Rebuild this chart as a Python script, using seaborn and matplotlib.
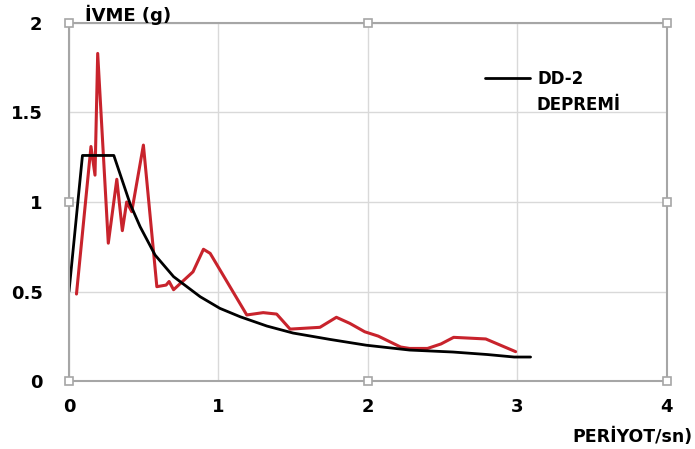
import matplotlib
matplotlib.use("Agg")
import matplotlib.pyplot as plt
import pandas as pd
import seaborn as sns

# DD-2 design spectrum (black)
dd2_period = [0.0, 0.09, 0.30, 0.409, 0.476, 0.576, 0.70, 0.878, 1.01, 1.146,
              1.325, 1.50, 1.75, 1.99, 2.28, 2.57, 2.80, 2.98, 3.09]
dd2_accel = [0.50, 1.26, 1.26, 0.99, 0.862, 0.704, 0.583, 0.471, 0.406, 0.359,
             0.307, 0.268, 0.232, 0.20, 0.173, 0.162, 0.148, 0.134, 0.134]

# record spectrum (red)
rec_period = [0.05, 0.147, 0.174, 0.192, 0.263, 0.32, 0.357, 0.386, 0.42, 0.498, 0.588, 0.65, 0.67,
              0.70, 0.83, 0.90, 0.945, 1.19, 1.30, 1.39, 1.48, 1.68, 1.79, 1.88, 1.98, 2.07, 2.22,
              2.28, 2.40, 2.49, 2.575, 2.79, 2.99]
rec_accel = [0.486, 1.31, 1.15, 1.83, 0.77, 1.127, 0.84, 1.0, 0.946, 1.318, 0.527, 0.536, 0.556,
             0.51, 0.61, 0.736, 0.713, 0.369, 0.382, 0.374, 0.29, 0.30, 0.356, 0.322, 0.275, 0.251, 0.19,
             0.182, 0.182, 0.207, 0.244, 0.235, 0.164]

x_ticks = [0, 1, 2, 3, 4]
y_ticks = [0, 0.5, 1, 1.5, 2]
y_labels = ["0", "0.5", "1", "1.5", "2"]

sns.set_style("white")
plt.rcParams["font.family"] = ["DejaVu Sans"]
plt.rcParams["text.color"] = "black"
plt.rcParams["xtick.color"] = "black"
plt.rcParams["ytick.color"] = "black"

fig = plt.figure(figsize=(6.95, 4.49), dpi=100)
ax = fig.add_axes([0.0993, 0.1514, 0.8597, 0.7974])

dd2 = pd.DataFrame({"T": dd2_period, "A": dd2_accel})
rec = pd.DataFrame({"T": rec_period, "A": rec_accel})

sns.lineplot(data=rec, x="T", y="A", ax=ax, color="#c8232c", lw=2.2, sort=False, estimator=None)
sns.lineplot(data=dd2, x="T", y="A", ax=ax, color="black", lw=2.0, sort=False, estimator=None)

ax.set_xlim(0, 4)
ax.set_ylim(0, 2)
ax.set_xticks(x_ticks)
ax.set_yticks(y_ticks)
ax.set_yticklabels(y_labels)
ax.grid(True, color="#d9d9d9", lw=1.0)
ax.tick_params(axis="both", length=0, labelsize=13)
ax.tick_params(axis="y", pad=19)
ax.tick_params(axis="x", pad=12)
for lab in ax.get_xticklabels() + ax.get_yticklabels():
    lab.set_fontweight("bold")
for sp in ax.spines.values():
    sp.set_color("#a6a6a6")
    sp.set_linewidth(1.5)
ax.set_xlabel("")
ax.set_ylabel("")

# selection handles of the chart frame
hx = [0, 0, 0, 0.5, 1, 1, 1, 0.5]
hy = [0, 0.5, 1, 1, 1, 0.5, 0, 0]
ax.plot(hx, hy, ls="none", marker="s", ms=6, mfc="white", mec="#a6a6a6", mew=1.2,
        transform=ax.transAxes, clip_on=False, zorder=5)

fig.text(85 / 695, 1 - 15 / 449, "İVME (g)", fontsize=13, fontweight="bold", va="center", ha="left")
fig.text(693 / 695, 1 - 437 / 449, "PERİYOT/sn)", fontsize=12.5, fontweight="bold", va="center", ha="right")

black_line = ax.get_lines()[1]
ax.legend([black_line], ["DD-2"], loc="upper left", bbox_to_anchor=(0.697, 0.868),
          frameon=False, borderpad=0, borderaxespad=0, handlelength=2.7, handletextpad=0.4,
          prop={"size": 12, "weight": "bold"})
ax.text(0.782, 0.771, "DEPREMİ", transform=ax.transAxes, fontsize=12, fontweight="bold",
        va="center", ha="left")

fig.savefig("out.png", dpi=100)
